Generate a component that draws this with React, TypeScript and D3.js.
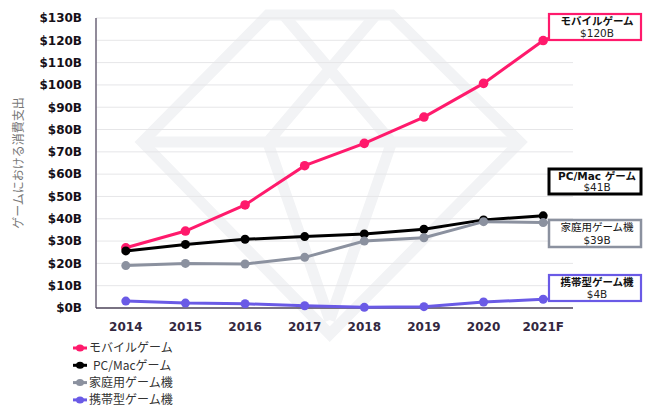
import React from 'react';
import * as d3 from 'd3';

const years = ['2014', '2015', '2016', '2017', '2018', '2019', '2020', '2021F'];
const mobileGame = [27.0, 34.5, 46.2, 63.8, 73.8, 85.6, 100.7, 119.9];
const pcMacGame = [25.6, 28.5, 30.8, 32.0, 33.2, 35.3, 39.5, 41.3];
const consoleGame = [19.0, 20.0, 19.7, 22.7, 30.0, 31.5, 38.7, 38.3];
const handheldGame = [3.1, 2.2, 1.9, 1.0, 0.3, 0.6, 2.7, 3.9];
const yTicks = [0, 10, 20, 30, 40, 50, 60, 70, 80, 90, 100, 110, 120, 130];
const seriesNames = ['モバイルゲーム', 'PC/Macゲーム', '家庭用ゲーム機', '携帯型ゲーム機'];
const boxTitles = ['モバイルゲーム', 'PC/Mac ゲーム', '家庭用ゲーム機', '携帯型ゲーム機'];
const boxValues = ['$120B', '$41B', '$39B', '$4B'];
const yTitle = 'ゲームにおける消費支出';

const W = 650;
const H = 407;
const M = { left: 96, right: 573, top: 18, bottom: 308 };

const styles = [
  { color: '#ff1a6c', r: 4.8, box: { y: 14, h: 26, sw: 2.2 }, bold: true },
  { color: '#000000', r: 4.5, box: { y: 169, h: 25, sw: 3 }, bold: true },
  { color: '#8b919f', r: 4.5, box: { y: 220, h: 27, sw: 2.5 }, bold: false },
  { color: '#6a5ae6', r: 4.5, box: { y: 275, h: 26, sw: 2.2 }, bold: true },
];

export default function App() {
  const allSeries = [mobileGame, pcMacGame, consoleGame, handheldGame];
  const x = d3.scaleBand().domain(years).range([M.left, M.right]);
  const cx = (d: string) => (x(d) as number) + x.bandwidth() / 2;
  const y = d3.scaleLinear().domain([0, 130]).range([M.bottom, M.top]);
  const line = d3
    .line<number>()
    .x((_, i) => cx(years[i]))
    .y((v) => y(v));

  const fontLatin = "'DejaVu Sans', 'Noto Sans CJK JP', sans-serif";
  const fontCJK = "'Noto Sans CJK JP', 'DejaVu Sans', sans-serif";

  // watermark gem (decorative), in plot-relative units
  const pw = M.right - M.left;
  const ph = M.bottom - M.top;
  const px = (f: number) => M.left + f * pw;
  const py = (f: number) => M.top + f * ph;
  const gTop = py(-0.01);
  const gGirdle = py(0.428);
  const gBottom = py(1.09);
  const gL = px(0.097), gR = px(0.889), gTL = px(0.36), gTR = px(0.62), gC = px(0.49);
  const gemOuter = `M${gTL},${gTop} L${gTR},${gTop} L${gR},${gGirdle} L${gC},${gBottom} L${gL},${gGirdle} Z`;
  const gemInner = `M${gL},${gGirdle} L${gR},${gGirdle} M${gTL + 16},${gTop} L${gTR},${gGirdle} M${gTR - 16},${gTop} L${gTL},${gGirdle} M${gTL},${gGirdle} L${gC},${gBottom - 14} M${gTR},${gGirdle} L${gC},${gBottom - 14}`;

  const boxX = 549;
  const boxW = 92;

  return (
    <svg width={W} height={H} style={{ position: 'absolute', left: 0, top: 0, background: '#fff' }}>
      <rect x={0} y={0} width={W} height={H} fill="#fff" />
      {/* watermark */}
      <g fill="none" stroke="#f2f3f5" strokeWidth={11} strokeLinejoin="miter">
        <path d={gemOuter} />
        <path d={gemInner} />
      </g>
      {/* gridlines */}
      {yTicks.filter((t) => t > 0).map((t) => (
        <line key={t} x1={M.left} x2={M.right} y1={y(t)} y2={y(t)} stroke="#e6e6e8" strokeWidth={1} />
      ))}
      {/* axes */}
      <line x1={M.left} x2={M.left} y1={M.top} y2={M.bottom} stroke="#6d6478" strokeWidth={1.5} />
      <line x1={M.left} x2={M.right} y1={M.bottom} y2={M.bottom} stroke="#4d4358" strokeWidth={1.5} />
      {/* y tick labels */}
      {yTicks.map((t) => (
        <text key={t} x={82} y={y(t)} dy="0.36em" textAnchor="end" fontFamily={fontLatin} fontWeight="bold" fontSize={12} fill="#151018">
          {`$${t}B`}
        </text>
      ))}
      {/* x tick labels */}
      {years.map((yr) => (
        <text key={yr} x={cx(yr)} y={331} textAnchor="middle" fontFamily={fontLatin} fontWeight="bold" fontSize={12} fill="#33283f">
          {yr}
        </text>
      ))}
      {/* y title */}
      <text transform={`translate(23,${(M.top + M.bottom) / 2}) rotate(-90)`} textAnchor="middle" fontFamily={fontCJK} fontSize={12} fill="#777">
        {yTitle}
      </text>
      {/* series */}
      {allSeries.map((vals, si) => (
        <g key={si}>
          <path d={line(vals) as string} fill="none" stroke={styles[si].color} strokeWidth={3} />
          {vals.map((v, i) => (
            <circle key={i} cx={cx(years[i])} cy={y(v)} r={styles[si].r} fill={styles[si].color} />
          ))}
        </g>
      ))}
      {/* end labels */}
      {allSeries.map((vals, si) => {
        const st = styles[si];
        const lx = cx(years[years.length - 1]);
        const ly = y(vals[vals.length - 1]);
        const near = ly >= st.box.y - 6 && ly <= st.box.y + st.box.h + 6;
        const cy = Math.max(st.box.y + 2, Math.min(st.box.y + st.box.h - 2, ly));
        return (
          <g key={si}>
            {near && <line x1={lx} y1={ly} x2={boxX} y2={cy} stroke={st.color} strokeWidth={2.5} />}
            <rect x={boxX} y={st.box.y} width={boxW} height={st.box.h} fill="#fff" stroke={st.color} strokeWidth={st.box.sw} />
            <text x={boxX + boxW / 2 + 2} y={st.box.y + 11} textAnchor="middle" fontFamily={fontLatin} fontWeight={st.bold ? 'bold' : 'normal'} fontSize={10.5} fill="#111">
              {boxTitles[si]}
            </text>
            <text x={boxX + boxW / 2 + 2} y={st.box.y + st.box.h - 3} textAnchor="middle" fontFamily={fontLatin} fontSize={10.5} fill="#222">
              {boxValues[si]}
            </text>
          </g>
        );
      })}
      {/* legend */}
      {seriesNames.map((name, si) => {
        const ly = 348 + si * 17.3;
        return (
          <g key={name}>
            <line x1={73} x2={87} y1={ly} y2={ly} stroke={styles[si].color} strokeWidth={3} />
            <ellipse cx={80} cy={ly} rx={4} ry={3.5} fill={styles[si].color} />
            <text x={si === 1 ? 93 : 89} y={ly} dy="0.36em" fontFamily={fontCJK} fontSize={12} fill="#333">
              {name}
            </text>
          </g>
        );
      })}
    </svg>
  );
}
